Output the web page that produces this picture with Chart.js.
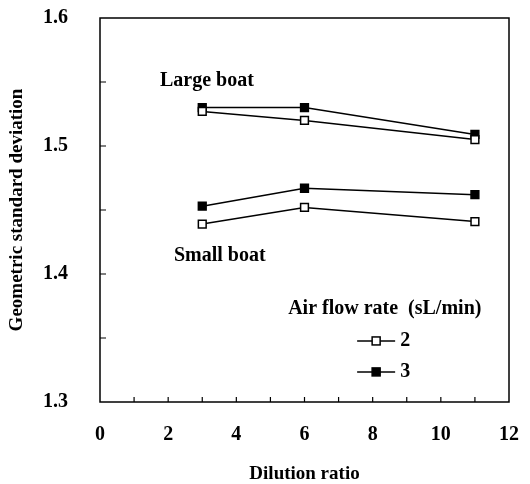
<!DOCTYPE html>
<html>
<head>
<meta charset="utf-8">
<script src="https://cdn.jsdelivr.net/npm/chart.js@4.4.0/dist/chart.umd.min.js"></script>
<style>
  html, body { margin: 0; padding: 0; background: #fff; }
  #wrap { width: 530px; height: 484px; }
</style>
</head>
<body>
<div id="wrap"><canvas id="myChart" width="530" height="484"></canvas></div>
<script>
// dilution ratio (x)
var dilution = [3, 6, 11];
// air flow rate 2 sL/min (open squares)
var large2 = [1.527, 1.520, 1.505];
var small2 = [1.439, 1.452, 1.441];
// air flow rate 3 sL/min (filled squares)
var large3 = [1.530, 1.530, 1.509];
var small3 = [1.453, 1.467, 1.462];

var flowLabels = ["2", "3"];
var legendTitle = "Air flow rate  (sL/min)";
var xTitle = "Dilution ratio";
var yTitle = "Geometric standard deviation";
var xTicks = [0, 2, 4, 6, 8, 10, 12];
var yTicks = [1.3, 1.4, 1.5, 1.6];

var serif = '"Liberation Serif", "Times New Roman", serif';

function pts(ys) {
    var out = [];
    for (var i = 0; i < dilution.length; i++) {
        out.push({ x: dilution[i], y: ys[i] });
    }
    return out;
}

function ds(label, ys, filled) {
    return {
        label: label,
        data: pts(ys),
        borderColor: '#000',
        borderWidth: 1.5,
        pointStyle: 'rect',
        pointRadius: 5.5,
        pointBorderWidth: 1.5,
        pointBorderColor: '#000',
        pointBackgroundColor: filled ? '#000' : '#fff',
        tension: 0
    };
}

// frame, inward ticks, annotations and legend
var extras = {
    id: 'extras',
    afterDraw: function(chart) {
        var ctx = chart.ctx;
        var a = chart.chartArea;
        var xs = chart.scales.x, ys = chart.scales.y;
        ctx.save();
        ctx.strokeStyle = '#000';
        ctx.lineWidth = 1.5;
        ctx.strokeRect(a.left, a.top, a.right - a.left, a.bottom - a.top);

        ctx.lineWidth = 1.2;
        ctx.beginPath();
        for (var i = 1; i < 12; i++) {
            var px = xs.getPixelForValue(i);
            ctx.moveTo(px, a.bottom);
            ctx.lineTo(px, a.bottom - 5);
        }
        for (var v = 1.35; v < 1.59; v += 0.05) {
            var py = ys.getPixelForValue(v);
            ctx.moveTo(a.left, py);
            ctx.lineTo(a.left + 6, py);
        }
        ctx.stroke();

        ctx.fillStyle = '#000';
        ctx.font = 'bold 20px ' + serif;
        ctx.textBaseline = 'middle';
        ctx.textAlign = 'left';
        ctx.fillText('Large boat', xs.getPixelForValue(1.76), ys.getPixelForValue(1.551));
        ctx.fillText('Small boat', xs.getPixelForValue(2.17), ys.getPixelForValue(1.414));

        // legend
        var lx = xs.getPixelForValue(5.52);
        ctx.fillText(legendTitle, lx, ys.getPixelForValue(1.3727));
        var rows = [1.3477, 1.3235];
        var sets = [chart.data.datasets[0], chart.data.datasets[2]];
        for (var r = 0; r < rows.length; r++) {
            var ry = ys.getPixelForValue(rows[r]);
            var x0 = lx + 69, x1 = lx + 107, xm = (x0 + x1) / 2;
            ctx.lineWidth = 1.5;
            ctx.beginPath();
            ctx.moveTo(x0, ry);
            ctx.lineTo(x1, ry);
            ctx.stroke();
            ctx.fillStyle = sets[r].pointBackgroundColor;
            ctx.fillRect(xm - 4, ry - 4, 8, 8);
            ctx.strokeRect(xm - 4, ry - 4, 8, 8);
            ctx.fillStyle = '#000';
            ctx.fillText(flowLabels[r], x1 + 5, ry);
        }
        ctx.restore();
    }
};

var ctx = document.getElementById('myChart').getContext('2d');
var myChart = new Chart(ctx, {
    type: 'line',
    data: {
        datasets: [
            ds('2', large2, false),
            ds('2', small2, false),
            ds('3', large3, true),
            ds('3', small3, true)
        ]
    },
    options: {
        responsive: false,
        animation: false,
        layout: { padding: { left: 0, top: 18, right: 21, bottom: 0 } },
        plugins: {
            legend: { display: false },
            tooltip: { enabled: false }
        },
        scales: {
            x: {
                type: 'linear',
                min: 0,
                max: 12,
                afterFit: function(s) {
                    s.height = 82;
                    s.paddingLeft = 0; s.paddingRight = 0;
                    s.paddingTop = 0; s.paddingBottom = 0;
                },
                afterBuildTicks: function(s) {
                    s.ticks = xTicks.map(function(v) { return { value: v }; });
                },
                grid: { display: false, drawTicks: false },
                border: { display: false },
                ticks: {
                    padding: 21,
                    color: '#000',
                    font: { family: serif, size: 20, weight: 'bold' }
                },
                title: {
                    display: true,
                    text: xTitle,
                    color: '#000',
                    padding: { top: 0, bottom: 0 },
                    font: { family: serif, size: 19, weight: 'bold', lineHeight: 1 }
                }
            },
            y: {
                min: 1.3,
                max: 1.6,
                afterFit: function(s) {
                    s.width = 100;
                    s.paddingLeft = 0; s.paddingRight = 0;
                    s.paddingTop = 0; s.paddingBottom = 0;
                },
                afterBuildTicks: function(s) {
                    s.ticks = yTicks.map(function(v) { return { value: v }; });
                },
                grid: { display: false, drawTicks: false },
                border: { display: false },
                ticks: {
                    padding: 32,
                    color: '#000',
                    font: { family: serif, size: 20, weight: 'bold' },
                    callback: function(v) { return v.toFixed(1); }
                },
                title: {
                    display: true,
                    text: yTitle,
                    color: '#000',
                    padding: { top: 6, bottom: 0 },
                    font: { family: serif, size: 19, weight: 'bold', lineHeight: 1.2 }
                }
            }
        }
    },
    plugins: [extras]
});
</script>
</body>
</html>
